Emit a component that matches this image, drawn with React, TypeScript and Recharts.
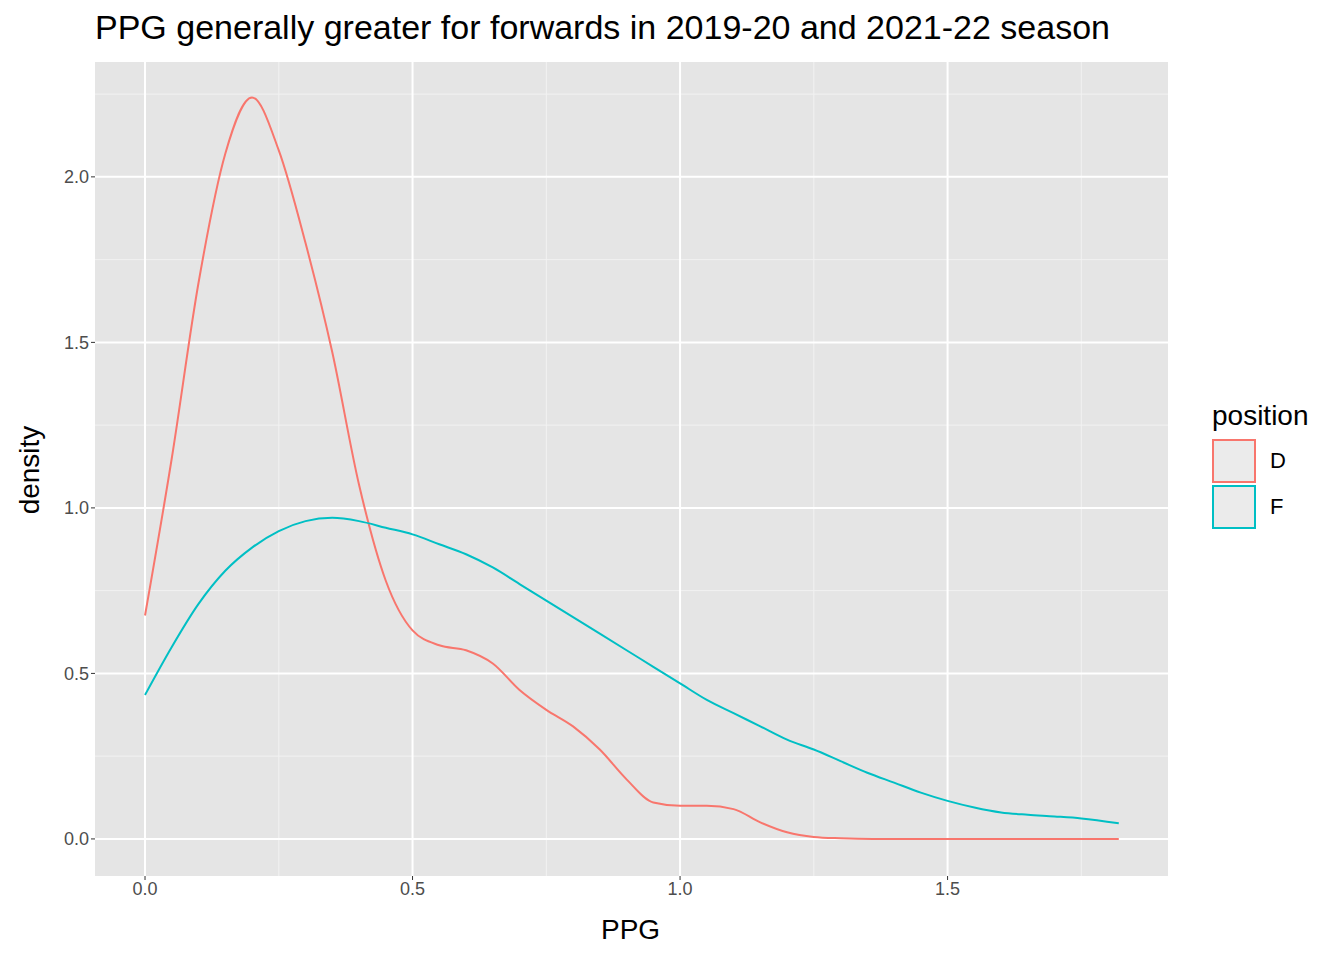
import React from "react";
import { LineChart, Line, XAxis, YAxis, CartesianGrid, ReferenceLine } from "recharts";

const dX = [0, 0.05, 0.1, 0.15, 0.2, 0.25, 0.3, 0.35, 0.4, 0.45, 0.5, 0.55, 0.6, 0.65, 0.7, 0.75, 0.8, 0.85, 0.9, 0.95, 1.0, 1.05, 1.1, 1.15, 1.2, 1.25, 1.3, 1.36, 1.5, 1.65, 1.82];
const dY = [0.675, 1.15, 1.68, 2.07, 2.24, 2.08, 1.8, 1.47, 1.07, 0.78, 0.63, 0.585, 0.57, 0.53, 0.45, 0.39, 0.34, 0.27, 0.18, 0.11, 0.1, 0.1, 0.09, 0.05, 0.02, 0.006, 0.002, 0, 0, 0, 0];
const fX = [0, 0.05, 0.1, 0.15, 0.2, 0.25, 0.3, 0.35, 0.4, 0.45, 0.5, 0.55, 0.6, 0.65, 0.7, 0.75, 0.8, 0.85, 0.9, 0.95, 1.0, 1.05, 1.1, 1.15, 1.2, 1.25, 1.3, 1.35, 1.4, 1.45, 1.5, 1.55, 1.6, 1.65, 1.7, 1.75, 1.82];
const fY = [0.435, 0.58, 0.71, 0.81, 0.88, 0.93, 0.96, 0.97, 0.96, 0.94, 0.92, 0.89, 0.86, 0.82, 0.77, 0.72, 0.67, 0.62, 0.57, 0.52, 0.47, 0.42, 0.38, 0.34, 0.3, 0.27, 0.235, 0.2, 0.17, 0.14, 0.115, 0.095, 0.08, 0.073, 0.068, 0.062, 0.047];
const xTicks = [0, 0.5, 1, 1.5];
const yTicks = [0, 0.5, 1, 1.5, 2];
const xMinor = [0.25, 0.75, 1.25, 1.75];
const yMinor = [0.25, 0.75, 1.25, 1.75, 2.25];

const dData = dX.map((x, i) => ({ x, y: dY[i] }));
const fData = fX.map((x, i) => ({ x, y: fY[i] }));
const font = "'Liberation Sans', Arial, sans-serif";
const tick = { fill: "#4d4d4d", fontSize: 18, fontFamily: font };

export default function App() {
  return (
    <div style={{ position: "absolute", left: 0, top: 0, width: 1344, height: 960, background: "#fff", fontFamily: font }}>
      <div style={{ position: "absolute", left: 95, top: 8, fontSize: 34, color: "#000", whiteSpace: "nowrap" }}>
        PPG generally greater for forwards in 2019-20 and 2021-22 season
      </div>
      <LineChart width={1344} height={960} margin={{ top: 62, right: 176, bottom: 0, left: 0 }}>
        <CartesianGrid horizontal={false} vertical={false} fill="#e5e5e5" stroke="none" />
        {xMinor.map((v) => <ReferenceLine key={"xm" + v} x={v} stroke="#f2f2f2" strokeWidth={1} />)}
        {yMinor.map((v) => <ReferenceLine key={"ym" + v} y={v} stroke="#f2f2f2" strokeWidth={1} />)}
        {xTicks.map((v) => <ReferenceLine key={"x" + v} x={v} stroke="#fff" strokeWidth={2} />)}
        {yTicks.map((v) => <ReferenceLine key={"y" + v} y={v} stroke="#fff" strokeWidth={2} />)}
        <XAxis type="number" dataKey="x" domain={[-0.0935, 1.912]} ticks={xTicks} allowDataOverflow
          tickFormatter={(v) => v.toFixed(1)} height={84} tick={tick} fontSize={18} tickSize={4}
          axisLine={false} tickLine={{ stroke: "#333" }} />
        <YAxis type="number" dataKey="y" domain={[-0.112, 2.347]} ticks={yTicks} allowDataOverflow
          tickFormatter={(v) => v.toFixed(1)} width={95} tick={tick} fontSize={18} tickSize={4}
          axisLine={false} tickLine={{ stroke: "#333" }} />
        <Line data={dData} dataKey="y" type="monotone" stroke="#F8766D" strokeWidth={2} dot={false} isAnimationActive={false} />
        <Line data={fData} dataKey="y" type="monotone" stroke="#00BFC4" strokeWidth={2} dot={false} isAnimationActive={false} />
      </LineChart>
      <div style={{ position: "absolute", left: 601, top: 914, fontSize: 28 }}>PPG</div>
      <div style={{ position: "absolute", left: 30, top: 470, fontSize: 28, transform: "translate(-50%,-50%) rotate(-90deg)" }}>density</div>
      <div style={{ position: "absolute", left: 1212, top: 400 }}>
        <div style={{ fontSize: 28, marginBottom: 6 }}>position</div>
        {[["D", "#F8766D"], ["F", "#00BFC4"]].map(([k, c]) => (
          <div key={k} style={{ display: "flex", alignItems: "center", height: 46 }}>
            <div style={{ width: 44, height: 44, background: "#ebebeb", border: `2px solid ${c}`, boxSizing: "border-box" }} />
            <span style={{ marginLeft: 14, fontSize: 22 }}>{k}</span>
          </div>
        ))}
      </div>
    </div>
  );
}
